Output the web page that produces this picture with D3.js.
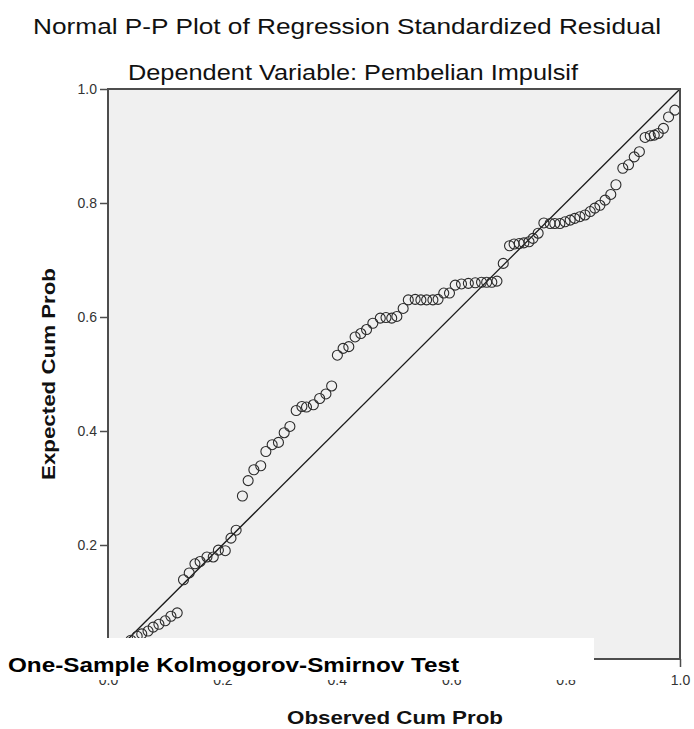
<!DOCTYPE html>
<html>
<head>
<meta charset="utf-8">
<script src="https://cdn.jsdelivr.net/npm/d3@7"></script>
<style>
  html, body { margin: 0; padding: 0; background: #ffffff; }
  svg { display: block; font-family: "Liberation Sans", Arial, sans-serif; }
</style>
</head>
<body>
<svg id="chart" width="694" height="729"></svg>
<script>
// ---- data ----
const titleText = "Normal P-P Plot of Regression Standardized Residual";
const subtitleText = "Dependent Variable: Pembelian Impulsif";
const xTitle = "Observed Cum Prob";
const yTitle = "Expected Cum Prob";
const overlayText = "One-Sample Kolmogorov-Smirnov Test";
const tickValues = [0.0, 0.2, 0.4, 0.6, 0.8, 1.0];
const diagonal = [[0, 0], [1, 1]];

const observed = [
  0.010, 0.021, 0.031, 0.040, 0.051, 0.059, 0.070, 0.079, 0.089, 0.100,
  0.110, 0.121, 0.132, 0.142, 0.152, 0.161, 0.173, 0.184, 0.193, 0.205,
  0.215, 0.224, 0.235, 0.245, 0.255, 0.267, 0.276, 0.287, 0.298, 0.308,
  0.318, 0.329, 0.339, 0.347, 0.359, 0.370, 0.381, 0.391, 0.401, 0.411,
  0.421, 0.432, 0.442, 0.452, 0.463, 0.476, 0.486, 0.496, 0.505, 0.516,
  0.525, 0.537, 0.547, 0.557, 0.568, 0.577, 0.587, 0.597, 0.607, 0.618,
  0.630, 0.642, 0.653, 0.662, 0.671, 0.680, 0.691, 0.702, 0.710, 0.719,
  0.727, 0.736, 0.743, 0.752, 0.762, 0.773, 0.781, 0.790, 0.799, 0.808,
  0.816, 0.825, 0.834, 0.843, 0.851, 0.860, 0.869, 0.879, 0.888, 0.900,
  0.910, 0.920, 0.929, 0.939, 0.948, 0.955, 0.962, 0.971, 0.980, 0.991
];
const expected = [
  0.009, 0.018, 0.026, 0.033, 0.040, 0.044, 0.049, 0.056, 0.061, 0.067,
  0.075, 0.081, 0.139, 0.151, 0.167, 0.171, 0.179, 0.179, 0.191, 0.190,
  0.212, 0.226, 0.286, 0.313, 0.332, 0.339, 0.364, 0.376, 0.380, 0.397,
  0.408, 0.436, 0.443, 0.442, 0.446, 0.457, 0.465, 0.479, 0.533, 0.545,
  0.548, 0.565, 0.571, 0.578, 0.589, 0.598, 0.599, 0.598, 0.601, 0.615,
  0.630, 0.631, 0.630, 0.630, 0.630, 0.631, 0.642, 0.642, 0.656, 0.658,
  0.659, 0.660, 0.661, 0.661, 0.661, 0.663, 0.694, 0.725, 0.728, 0.729,
  0.730, 0.732, 0.738, 0.747, 0.765, 0.764, 0.764, 0.764, 0.767, 0.770,
  0.773, 0.776, 0.779, 0.785, 0.791, 0.796, 0.805, 0.815, 0.832, 0.861,
  0.867, 0.881, 0.890, 0.915, 0.918, 0.919, 0.922, 0.931, 0.951, 0.963
];

// ---- drawing ----
const svg = d3.select("#chart");
const plotLeft = 108, plotRight = 680, plotTop = 89, plotBottom = 659;

const x = d3.scaleLinear().domain([0, 1]).range([plotLeft, plotRight]);
const y = d3.scaleLinear().domain([0, 1]).range([plotBottom, plotTop]);

// plot background
svg.append("rect")
  .attr("x", x(0)).attr("y", y(1))
  .attr("width", x(1) - x(0)).attr("height", y(0) - y(1))
  .attr("fill", "#f0f0f0");

// diagonal reference line
svg.append("path")
  .datum(diagonal)
  .attr("d", d3.line().x(d => x(d[0])).y(d => y(d[1])))
  .attr("fill", "none")
  .attr("stroke", "#1a1a1a")
  .attr("stroke-width", 1.3);

// points
const pts = observed.map((o, i) => ({ o, e: expected[i] }));
svg.append("g")
  .selectAll("circle")
  .data(pts)
  .join("circle")
  .attr("cx", d => x(d.o))
  .attr("cy", d => y(d.e))
  .attr("r", 5)
  .attr("fill", "none")
  .attr("stroke", "#2b2b2b")
  .attr("stroke-width", 1.1);

// frame
svg.append("rect")
  .attr("x", x(0)).attr("y", y(1))
  .attr("width", x(1) - x(0)).attr("height", y(0) - y(1))
  .attr("fill", "none")
  .attr("stroke", "#4d4d4d")
  .attr("stroke-width", 2);

// axes
const fmt = d3.format(".1f");
const yAxis = svg.append("g")
  .attr("transform", `translate(${plotLeft},0)`)
  .call(d3.axisLeft(y).tickValues(tickValues).tickFormat(fmt).tickSize(8).tickPadding(3));
const xAxis = svg.append("g")
  .attr("transform", `translate(0,${plotBottom})`)
  .call(d3.axisBottom(x).tickValues(tickValues).tickFormat(fmt).tickSize(8).tickPadding(8));

[yAxis, xAxis].forEach(g => {
  g.select(".domain").remove();
  g.selectAll(".tick line").attr("stroke", "#4d4d4d").attr("stroke-width", 1.5);
  g.selectAll(".tick text")
    .attr("fill", "#333")
    .style("font-family", "'Liberation Sans', Arial, sans-serif")
    .style("font-size", "14px");
});

// titles
svg.append("text")
  .attr("x", 347).attr("y", 34)
  .attr("text-anchor", "middle")
  .attr("fill", "#111")
  .style("font-size", "22px")
  .attr("textLength", 628)
  .attr("lengthAdjust", "spacingAndGlyphs")
  .text(titleText);

svg.append("text")
  .attr("x", 353).attr("y", 80)
  .attr("text-anchor", "middle")
  .attr("fill", "#111")
  .style("font-size", "22px")
  .attr("textLength", 450)
  .attr("lengthAdjust", "spacingAndGlyphs")
  .text(subtitleText);

svg.append("text")
  .attr("x", 395).attr("y", 724)
  .attr("text-anchor", "middle")
  .attr("fill", "#111")
  .style("font-size", "19px")
  .style("font-weight", "bold")
  .attr("textLength", 216)
  .attr("lengthAdjust", "spacingAndGlyphs")
  .text(xTitle);

svg.append("text")
  .attr("transform", "translate(48,374) rotate(-90)")
  .attr("text-anchor", "middle")
  .attr("dy", "0.36em")
  .attr("fill", "#111")
  .style("font-size", "19px")
  .style("font-weight", "bold")
  .attr("textLength", 212)
  .attr("lengthAdjust", "spacingAndGlyphs")
  .text(yTitle);

// white overlay box with heading
svg.append("rect")
  .attr("x", 0).attr("y", 638)
  .attr("width", 594).attr("height", 42)
  .attr("fill", "#ffffff");

svg.append("text")
  .attr("x", 8).attr("y", 671.5)
  .attr("fill", "#000")
  .style("font-size", "21px")
  .style("font-weight", "bold")
  .attr("textLength", 451)
  .attr("lengthAdjust", "spacingAndGlyphs")
  .text(overlayText);
</script>
</body>
</html>
